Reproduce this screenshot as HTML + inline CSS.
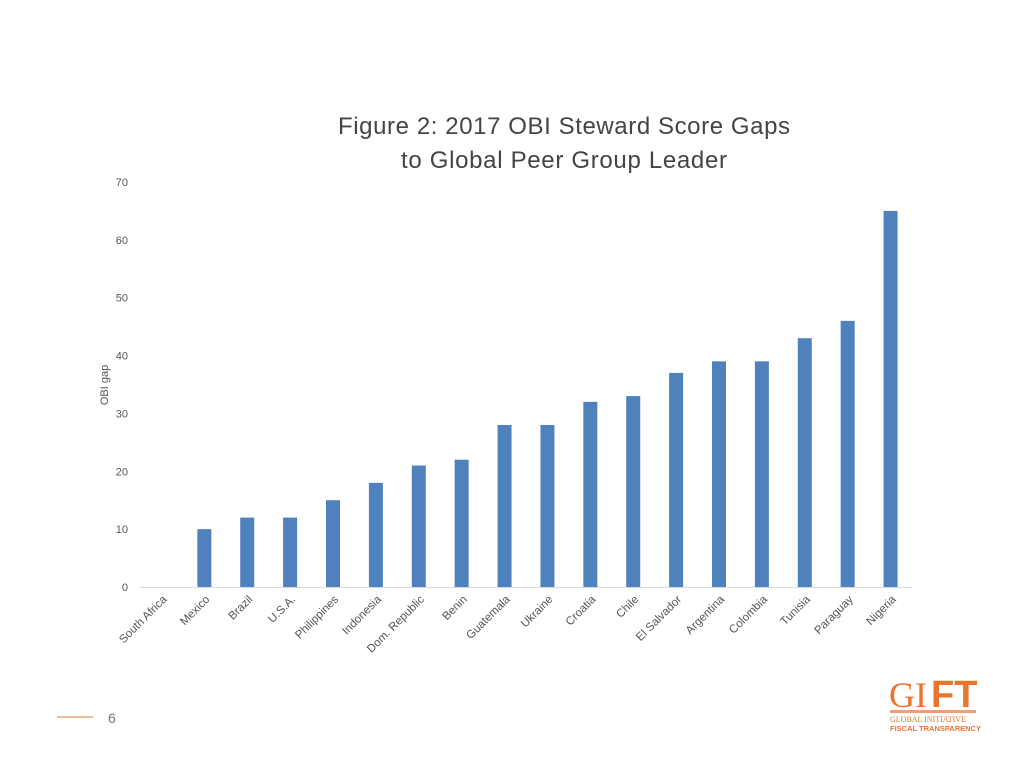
<!DOCTYPE html>
<html><head><meta charset="utf-8"><style>
body{margin:0;width:1024px;height:768px;background:#fff;font-family:"Liberation Sans",sans-serif;overflow:hidden}
svg{position:absolute;left:0;top:0}
</style></head><body>
<svg id="chart" width="1024" height="768">
<text x="564" y="134" text-anchor="middle" font-size="24" fill="#444" textLength="452">Figure 2: 2017 OBI Steward  Score Gaps</text>
<text x="564" y="168" text-anchor="middle" font-size="24" fill="#444" textLength="326">to Global Peer Group Leader</text>
<text transform="translate(108,385) rotate(-90)" text-anchor="middle" font-size="11" fill="#555">OBI gap</text>
<g id="yaxis"></g>
<g id="bars"></g>
<g id="xlabels"></g>
<line x1="57" y1="717" x2="93" y2="717" stroke="#e07b2a" stroke-width="1"/>
<text x="108" y="723" font-size="14" fill="#777">6</text>
<g>
<text x="889" y="707" font-size="36" fill="#e8742e" font-family="Liberation Serif,serif">GI</text>
<text x="931" y="707" font-size="38" font-weight="bold" fill="#e8742e">FT</text>
<rect x="890" y="710" width="86" height="3" fill="#f0a070"/>
<text x="890" y="722" font-size="8" fill="#e8742e" font-family="Liberation Serif,serif">GLOBAL INITIATIVE</text>
<text x="890" y="731" font-size="7.5" font-weight="bold" fill="#e8742e">FISCAL TRANSPARENCY</text>
</g>
</svg>
<script>
const categories=["South Africa","Mexico","Brazil","U.S.A.","Philippines","Indonesia","Dom. Republic","Benin","Guatemala","Ukraine","Croatia","Chile","El Salvador","Argentina","Colombia","Tunisia","Paraguay","Nigeria"];
const values=[0,10,12,12,15,18,21,22,28,28,32,33,37,39,39,43,46,65];
const yTicks=[0,10,20,30,40,50,60,70];
const NS="http://www.w3.org/2000/svg";
const x0=140,x1=912,y0=587,y1=182,yMax=70;
const bw=(x1-x0)/categories.length;
function yScale(v){return y0-(v/yMax)*(y0-y1);}
function xCenter(i){return x0+bw*(i+0.5);}
const ya=document.getElementById('yaxis'),bg=document.getElementById('bars'),xl=document.getElementById('xlabels');
yTicks.forEach(t=>{
 const tx=document.createElementNS(NS,'text');
 tx.setAttribute('x',128);tx.setAttribute('y',yScale(t)+4);tx.setAttribute('text-anchor','end');
 tx.setAttribute('font-size','11');tx.setAttribute('fill','#555');tx.textContent=t;
 
 
 ya.appendChild(tx);
});
const ax=document.createElementNS(NS,'line');
ax.setAttribute('x1',x0);ax.setAttribute('x2',x1);ax.setAttribute('y1',y0+0.5);ax.setAttribute('y2',y0+0.5);ax.setAttribute('stroke','#d9d9d9');


ya.appendChild(ax);
values.forEach((v,i)=>{
 const r=document.createElementNS(NS,'rect');
 const w=14;
 r.setAttribute('x',xCenter(i)-w/2);r.setAttribute('width',w);
 r.setAttribute('y',yScale(v));r.setAttribute('height',y0-yScale(v));r.setAttribute('fill','#4f81bd');
 
 
 bg.appendChild(r);
});
categories.forEach((c,i)=>{
 const t=document.createElementNS(NS,'text');
 const cx=xCenter(i)+6,cy=600;
 t.setAttribute('transform','translate('+cx+','+cy+') rotate(-45)');
 t.setAttribute('text-anchor','end');t.setAttribute('font-size','11.5');t.setAttribute('fill','#555');
 t.textContent=c;
 
 
 xl.appendChild(t);
});
</script>
</body></html>
